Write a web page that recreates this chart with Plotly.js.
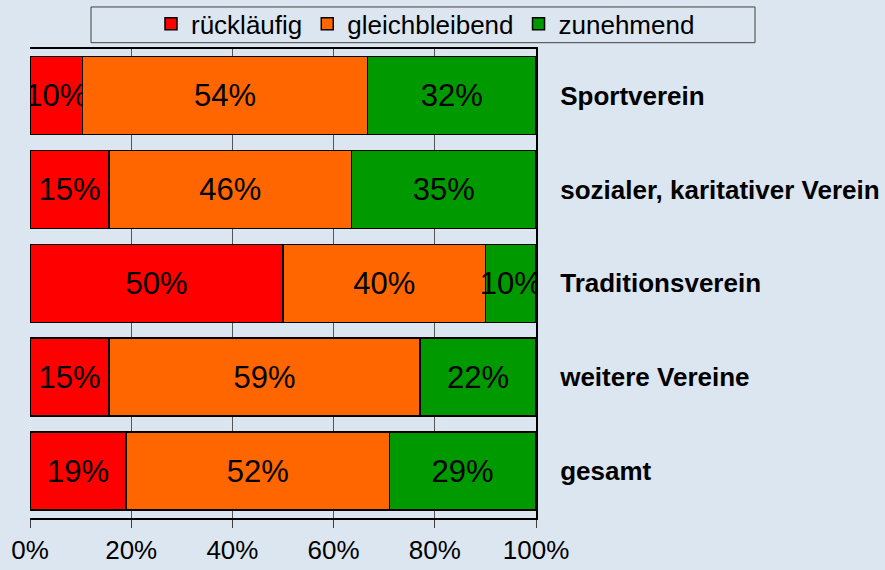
<!DOCTYPE html>
<html>
<head>
<meta charset="utf-8">
<script src="https://cdn.plot.ly/plotly-3.0.1.min.js"></script>
<style>
  html, body { margin: 0; padding: 0; background: #dce6f0; }
  #chart { width: 885px; height: 570px; }
</style>
</head>
<body>
<div id="chart"></div>
<script>
// Categories (top to bottom)
const categories = ["Sportverein", "sozialer, karitativer Verein", "Traditionsverein", "weitere Vereine", "gesamt"];
// Series values (percent labels as shown)
const ruecklaeufig   = [10, 15, 50, 15, 19];
const gleichbleibend = [54, 46, 40, 59, 52];
const zunehmend      = [32, 35, 10, 22, 29];
const seriesNames = ["rückläufig", "gleichbleibend", "zunehmend"];
const seriesColors = ["#ff0000", "#ff6600", "#009900"];
const xTickSuffix = "%";

const FONT = "Liberation Sans, Arial, sans-serif";
const BG = "#dce6f0";

// layout geometry (pixels)
const W = 885, H = 570;
const ML = 30, MR = 0, MT = 0, MB = 52;
const PLOT_RIGHT = 536, PLOT_TOP = 45;
const GW = W - ML - MR, GH = H - MT - MB;
const px2x = p => (p - ML) / GW;
const py2y = p => (H - MB - p) / GH;

const seriesData = [ruecklaeufig, gleichbleibend, zunehmend];
const traces = seriesData.map((vals, i) => ({
  type: "bar",
  orientation: "h",
  name: seriesNames[i],
  y: categories,
  x: vals,
  text: vals.map(v => v + "%"),
  texttemplate: "%{text}",
  textposition: "inside",
  insidetextanchor: "middle",
  constraintext: "none",
  textangle: 0,
  insidetextfont: { family: FONT, size: 31, color: "#000000" },
  marker: { color: seriesColors[i], line: { color: "#000000", width: 1.5 } },
  hoverinfo: "skip"
}));

const layout = {
  width: W,
  height: H,
  paper_bgcolor: BG,
  plot_bgcolor: BG,
  margin: { l: ML, r: MR, t: MT, b: MB, pad: 0 },
  barmode: "stack",
  barnorm: "percent",
  bargap: 0.17,
  font: { family: FONT, color: "#000000" },
  showlegend: true,
  legend: {
    orientation: "h",
    traceorder: "normal",
    x: px2x(700),
    xanchor: "right",
    y: py2y(20),
    yanchor: "middle",
    bgcolor: "rgba(0,0,0,0)",
    borderwidth: 0,
    font: { family: FONT, size: 26, color: "#000000" }
  },
  xaxis: {
    domain: [0, px2x(PLOT_RIGHT)],
    range: [0, 100],
    dtick: 20,
    ticksuffix: xTickSuffix,
    ticks: "outside",
    ticklen: 8,
    tickwidth: 1,
    tickcolor: "#404040",
    showline: true,
    linecolor: "#000000",
    linewidth: 2,
    mirror: true,
    showgrid: true,
    gridcolor: "#555555",
    gridwidth: 1,
    zeroline: false,
    tickfont: { family: FONT, size: 26, color: "#000000" },
    fixedrange: true
  },
  yaxis: {
    domain: [0, py2y(PLOT_TOP)],
    type: "category",
    autorange: "reversed",
    side: "right",
    ticks: "",
    showline: true,
    linecolor: "#000000",
    linewidth: 2,
    showgrid: false,
    zeroline: false,
    ticklabelstandoff: 17,
    tickfont: { family: FONT, size: 26, color: "#000000", weight: "bold" },
    fixedrange: true
  },
  yaxis2: {
    domain: [0, py2y(PLOT_TOP)],
    overlaying: "y",
    anchor: "x",
    side: "left",
    range: [-0.5, categories.length - 0.5],
    tickmode: "linear",
    tick0: -0.5,
    dtick: 1,
    ticks: "outside",
    ticklen: 8,
    tickwidth: 1,
    tickcolor: "#404040",
    showticklabels: false,
    showline: true,
    linecolor: "#000000",
    linewidth: 2,
    showgrid: false,
    zeroline: false,
    fixedrange: true
  },
  shapes: [{
    type: "rect",
    xref: "paper", yref: "paper",
    x0: px2x(91), x1: px2x(755),
    y0: py2y(39), y1: py2y(3),
    line: { color: "#404040", width: 1 },
    fillcolor: "rgba(0,0,0,0)",
    layer: "above"
  }]
};

Plotly.newPlot("chart", traces, layout, { displayModeBar: false, staticPlot: true });
</script>
</body>
</html>
